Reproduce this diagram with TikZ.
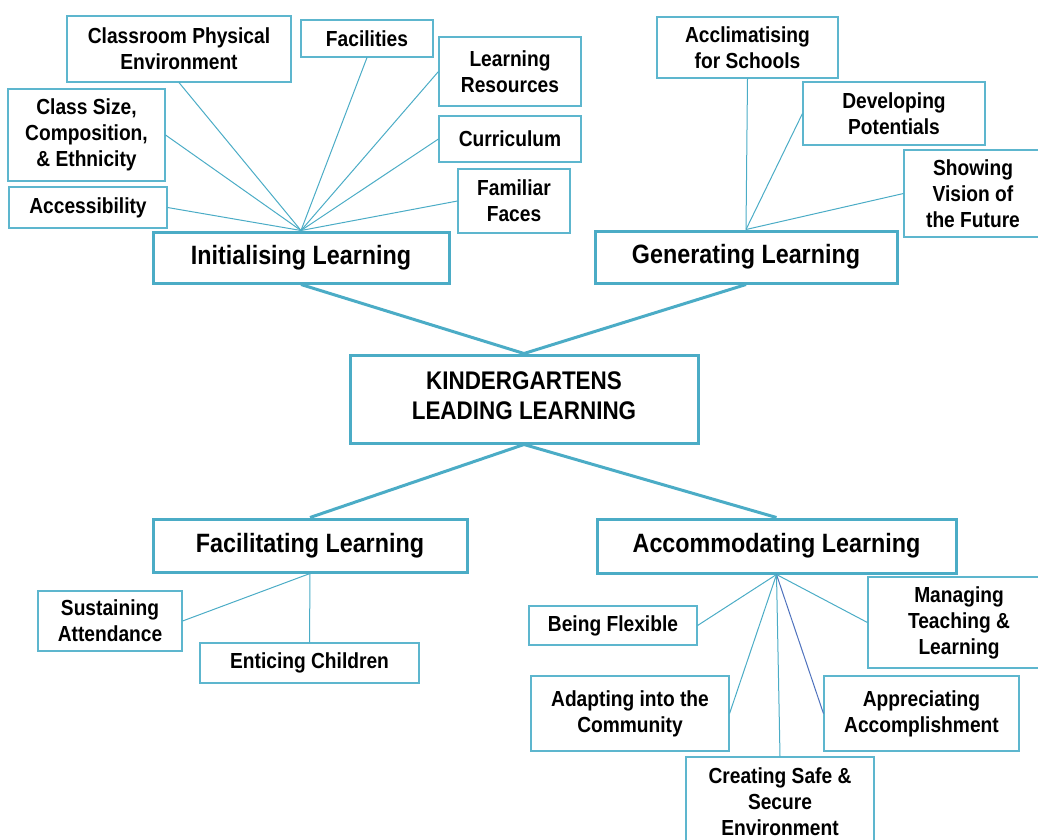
\documentclass[tikz,border=0pt]{standalone}
\usepackage{fontspec}
\setmainfont{Liberation Sans}[FakeStretch=0.88]
\definecolor{aqua}{HTML}{4BACC6}
\definecolor{aqualight}{HTML}{5DB6CE}
\definecolor{darkblue}{HTML}{4F72BD}
\begin{document}
\begin{tikzpicture}[x=1pt,y=-1pt,
  sbox/.style={draw=aqualight,line width=1.1pt,fill=white,inner sep=0pt,align=center,
    font=\bfseries\fontsize{21.8}{26}\selectfont},
  mbox/.style={draw=aqua,line width=3pt,fill=white,inner sep=0pt,align=center,
    font=\bfseries\fontsize{26.5}{30}\selectfont},
  thin/.style={draw=aqua,line width=1pt},
  thick/.style={draw=aqua,line width=3pt}]
\useasboundingbox (0,0) rectangle (1038,839);
% main boxes coordinates
\coordinate (ILc) at (301,257.5);
\coordinate (GLc) at (746,257);
\coordinate (KLLc) at (524,399);
\coordinate (FLc) at (310,545.5);
\coordinate (ALc) at (776.5,546);
% major connectors (drawn first, under boxes)
\path (ILc) node[mbox,minimum width=296pt,minimum height=51pt,draw=none,fill=none] (IL0) {};
\path (GLc) node[mbox,minimum width=302pt,minimum height=52pt,draw=none,fill=none] (GL0) {};
\path (KLLc) node[mbox,minimum width=348pt,minimum height=88pt,draw=none,fill=none] (KLL0) {};
\path (FLc) node[mbox,minimum width=314pt,minimum height=53pt,draw=none,fill=none] (FL0) {};
\path (ALc) node[mbox,minimum width=359pt,minimum height=54pt,draw=none,fill=none] (AL0) {};
\draw[thick] (KLL0.north) -- (IL0.south);
\draw[thick] (KLL0.north) -- (GL0.south);
\draw[thick] (KLL0.south) -- (FL0.north);
\draw[thick] (KLL0.south) -- (AL0.north);
% small boxes
\node[sbox,minimum width=224pt,minimum height=66pt] (cpe) at (179,49) {Classroom Physical\\Environment};
\node[sbox,minimum width=132pt,minimum height=37pt] (fac) at (367,38.5) {Facilities};
\node[sbox,minimum width=142pt,minimum height=69pt] (lr) at (510,71.5) {Learning\\Resources};
\node[sbox,minimum width=157pt,minimum height=92pt] (cs) at (86.5,135) {Class Size,\\Composition,\\\& Ethnicity};
\node[sbox,minimum width=142pt,minimum height=46pt] (cur) at (510,139) {Curriculum};
\node[sbox,minimum width=158pt,minimum height=41pt] (acc) at (88,207.5) {Accessibility};
\node[sbox,minimum width=112pt,minimum height=64pt] (ff) at (514,201) {Familiar\\Faces};
\node[sbox,minimum width=181pt,minimum height=61pt] (acs) at (747.5,47.5) {Acclimatising\\for Schools};
\node[sbox,minimum width=182pt,minimum height=63pt] (dp) at (894,113.5) {Developing\\Potentials};
\node[sbox,minimum width=138pt,minimum height=87pt] (svf) at (973,193.5) {Showing\\Vision of\\the Future};
\node[sbox,minimum width=144pt,minimum height=60pt] (sa) at (110,621) {Sustaining\\Attendance};
\node[sbox,minimum width=219pt,minimum height=40pt] (ec) at (309.5,663) {Enticing Children};
\node[sbox,minimum width=168pt,minimum height=39pt] (bf) at (613,625.5) {Being Flexible};
\node[sbox,minimum width=182pt,minimum height=91pt] (mtl) at (959,622.5) {Managing\\Teaching \&\\Learning};
\node[sbox,minimum width=198pt,minimum height=75pt] (aic) at (630,713.5) {Adapting into the\\Community};
\node[sbox,minimum width=195pt,minimum height=75pt] (aa) at (921.5,713.5) {Appreciating\\Accomplishment};
\node[sbox,minimum width=188pt,minimum height=90pt] (css) at (780,802) {Creating Safe \&\\Secure\\Environment};
% main boxes
\node[mbox,minimum width=296pt,minimum height=51pt] (IL) at (ILc) {Initialising Learning};
\node[mbox,minimum width=302pt,minimum height=52pt] (GL) at (GLc) {Generating Learning};
\node[mbox,minimum width=348pt,minimum height=88pt] (KLL) at (KLLc) {};
\node[font=\bfseries\fontsize{25.5}{30}\selectfont,align=center,inner sep=0pt] (KLLt) at ([yshift=3pt]KLL.center) {KINDERGARTENS\\LEADING LEARNING};
\node[mbox,minimum width=314pt,minimum height=53pt] (FL) at (FLc) {Facilitating Learning};
\node[mbox,minimum width=359pt,minimum height=54pt] (AL) at (ALc) {Accommodating Learning};
% thin connectors
\draw[thin] (IL.north) -- (cpe.south);
\draw[thin] (IL.north) -- (fac.south);
\draw[thin] (IL.north) -- (lr.west);
\draw[thin] (IL.north) -- (cs.east);
\draw[thin] (IL.north) -- (cur.west);
\draw[thin] (IL.north) -- (acc.east);
\draw[thin] (IL.north) -- (ff.west);
\draw[thin] (GL.north) -- (acs.south);
\draw[thin] (GL.north) -- (dp.west);
\draw[thin] (GL.north) -- (svf.west);
\draw[thin] (FL.south) -- (sa.east);
\draw[thin] (FL.south) -- (ec.north);
\draw[thin] (AL.south) -- (bf.east);
\draw[thin] (AL.south) -- (mtl.west);
\draw[thin] (AL.south) -- (aic.east);
\draw[thin,draw=darkblue] (AL.south) -- (aa.west);
\draw[thin] (AL.south) -- (css.north);
\end{tikzpicture}
\end{document}
